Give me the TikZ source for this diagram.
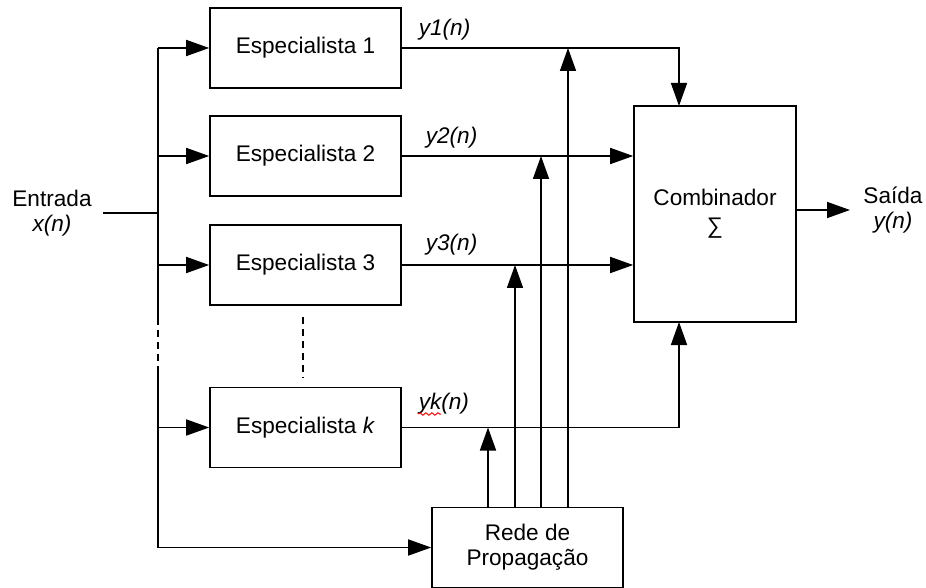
\documentclass[tikz,border=0pt]{standalone}
\usepackage{fontspec}
\setmainfont{Liberation Sans}
\usetikzlibrary{arrows.meta,decorations.pathmorphing}
\begin{document}
\begin{tikzpicture}[x=0.5pt,y=-0.5pt,
  line width=0.8pt,
  font=\fontsize{11.3}{12.5}\selectfont,
  box/.style={draw, inner sep=0pt, minimum width=95.5pt, minimum height=40pt, align=center},
  arr/.style={-{Triangle[length=11.5pt,width=8pt]}},
  lbl/.style={font=\fontsize{11.3}{12.5}\selectfont\itshape, anchor=west, inner sep=0pt},
  dots/.style={dash pattern=on 3.5pt off 2.5pt},
]
\clip (0,0) rectangle (926,588);
% boxes
\node[box] (e1) at (305.5,48) {Especialista 1};
\node[box] (e2) at (305.5,156) {Especialista 2};
\node[box] (e3) at (305.5,265) {Especialista 3};
\node[box] (ek) at (305.5,427.5) {Especialista \textit{k}};
\node[draw, inner sep=0pt, minimum width=81pt, minimum height=108pt, align=center,
      font=\fontsize{11.3}{14}\selectfont] (comb) at (715,214) {Combinador\\∑};
\node[box] (rede) at (527.5,547.5) {Rede de\\Propagação};
\node[align=center, inner sep=0pt] (entrada) at (52,213) {Entrada\\\textit{x(n)}};
\node[align=center, inner sep=0pt] (saida) at (893,210) {Saída\\\textit{y(n)}};
% coordinates
\coordinate (in) at (103,213);
\coordinate (jin) at (158,213);
\coordinate (bt) at (158,48);
\coordinate (d1) at (158,318);
\coordinate (d2) at (158,367);
\coordinate (bb) at (158,547.5);
\coordinate (out) at (850,210);
\coordinate (c1) at (679,106);
\coordinate (ck) at (679,322);
\path (rede.north) ++(-39.5,0) coordinate (rk)
      (rede.north) ++(-12.5,0) coordinate (r3)
      (rede.north) ++(13.5,0) coordinate (r2)
      (rede.north) ++(40.5,0) coordinate (r1);
% input bus
\draw (in) -- (jin);
\draw (bt) -- (d1);
\draw[dots] (d1) -- (d2);
\draw (d2) -- (bb);
\draw[arr] (bt) -- (e1.west);
\draw[arr] (bt |- e2.west) -- (e2.west);
\draw[arr] (bt |- e3.west) -- (e3.west);
\draw[arr] (bt |- ek.west) -- (ek.west);
\draw[arr] (bb) -- (bb -| rede.west);
\draw[dots, shorten <=5.5pt, shorten >=4.5pt] ([xshift=-1.25pt]e3.south) -- ([xshift=-1.25pt]ek.north);
% outputs to combiner
\draw[arr] (e1.east) -| (c1);
\draw[arr] (e2.east) -- (e2.east -| comb.west);
\draw[arr] (e3.east) -- (e3.east -| comb.west);
\draw[arr] (ek.east) -| (ck);
\draw[arr] (comb.east |- out) -- (out);
% gating network
\draw[arr] (rk) -- (rk |- ek.east);
\draw[arr] (r3) -- (r3 |- e3.east);
\draw[arr] (r2) -- (r2 |- e2.east);
\draw[arr] (r1) -- (r1 |- e1.east);
% labels
\node[lbl] (l1) at (418,30) {y1(n)};
\node[lbl] (l2) at (425,138) {y2(n)};
\node[lbl] (l3) at (425,245) {y3(n)};
\node[lbl] (lk) at (418,404) {yk(n)};
\coordinate (sq) at (418,414);
\draw[red, line width=0.5pt, decorate, decoration={snake, amplitude=0.6pt, segment length=3pt}] (sq) -- ++(23,0);
\end{tikzpicture}
\end{document}
